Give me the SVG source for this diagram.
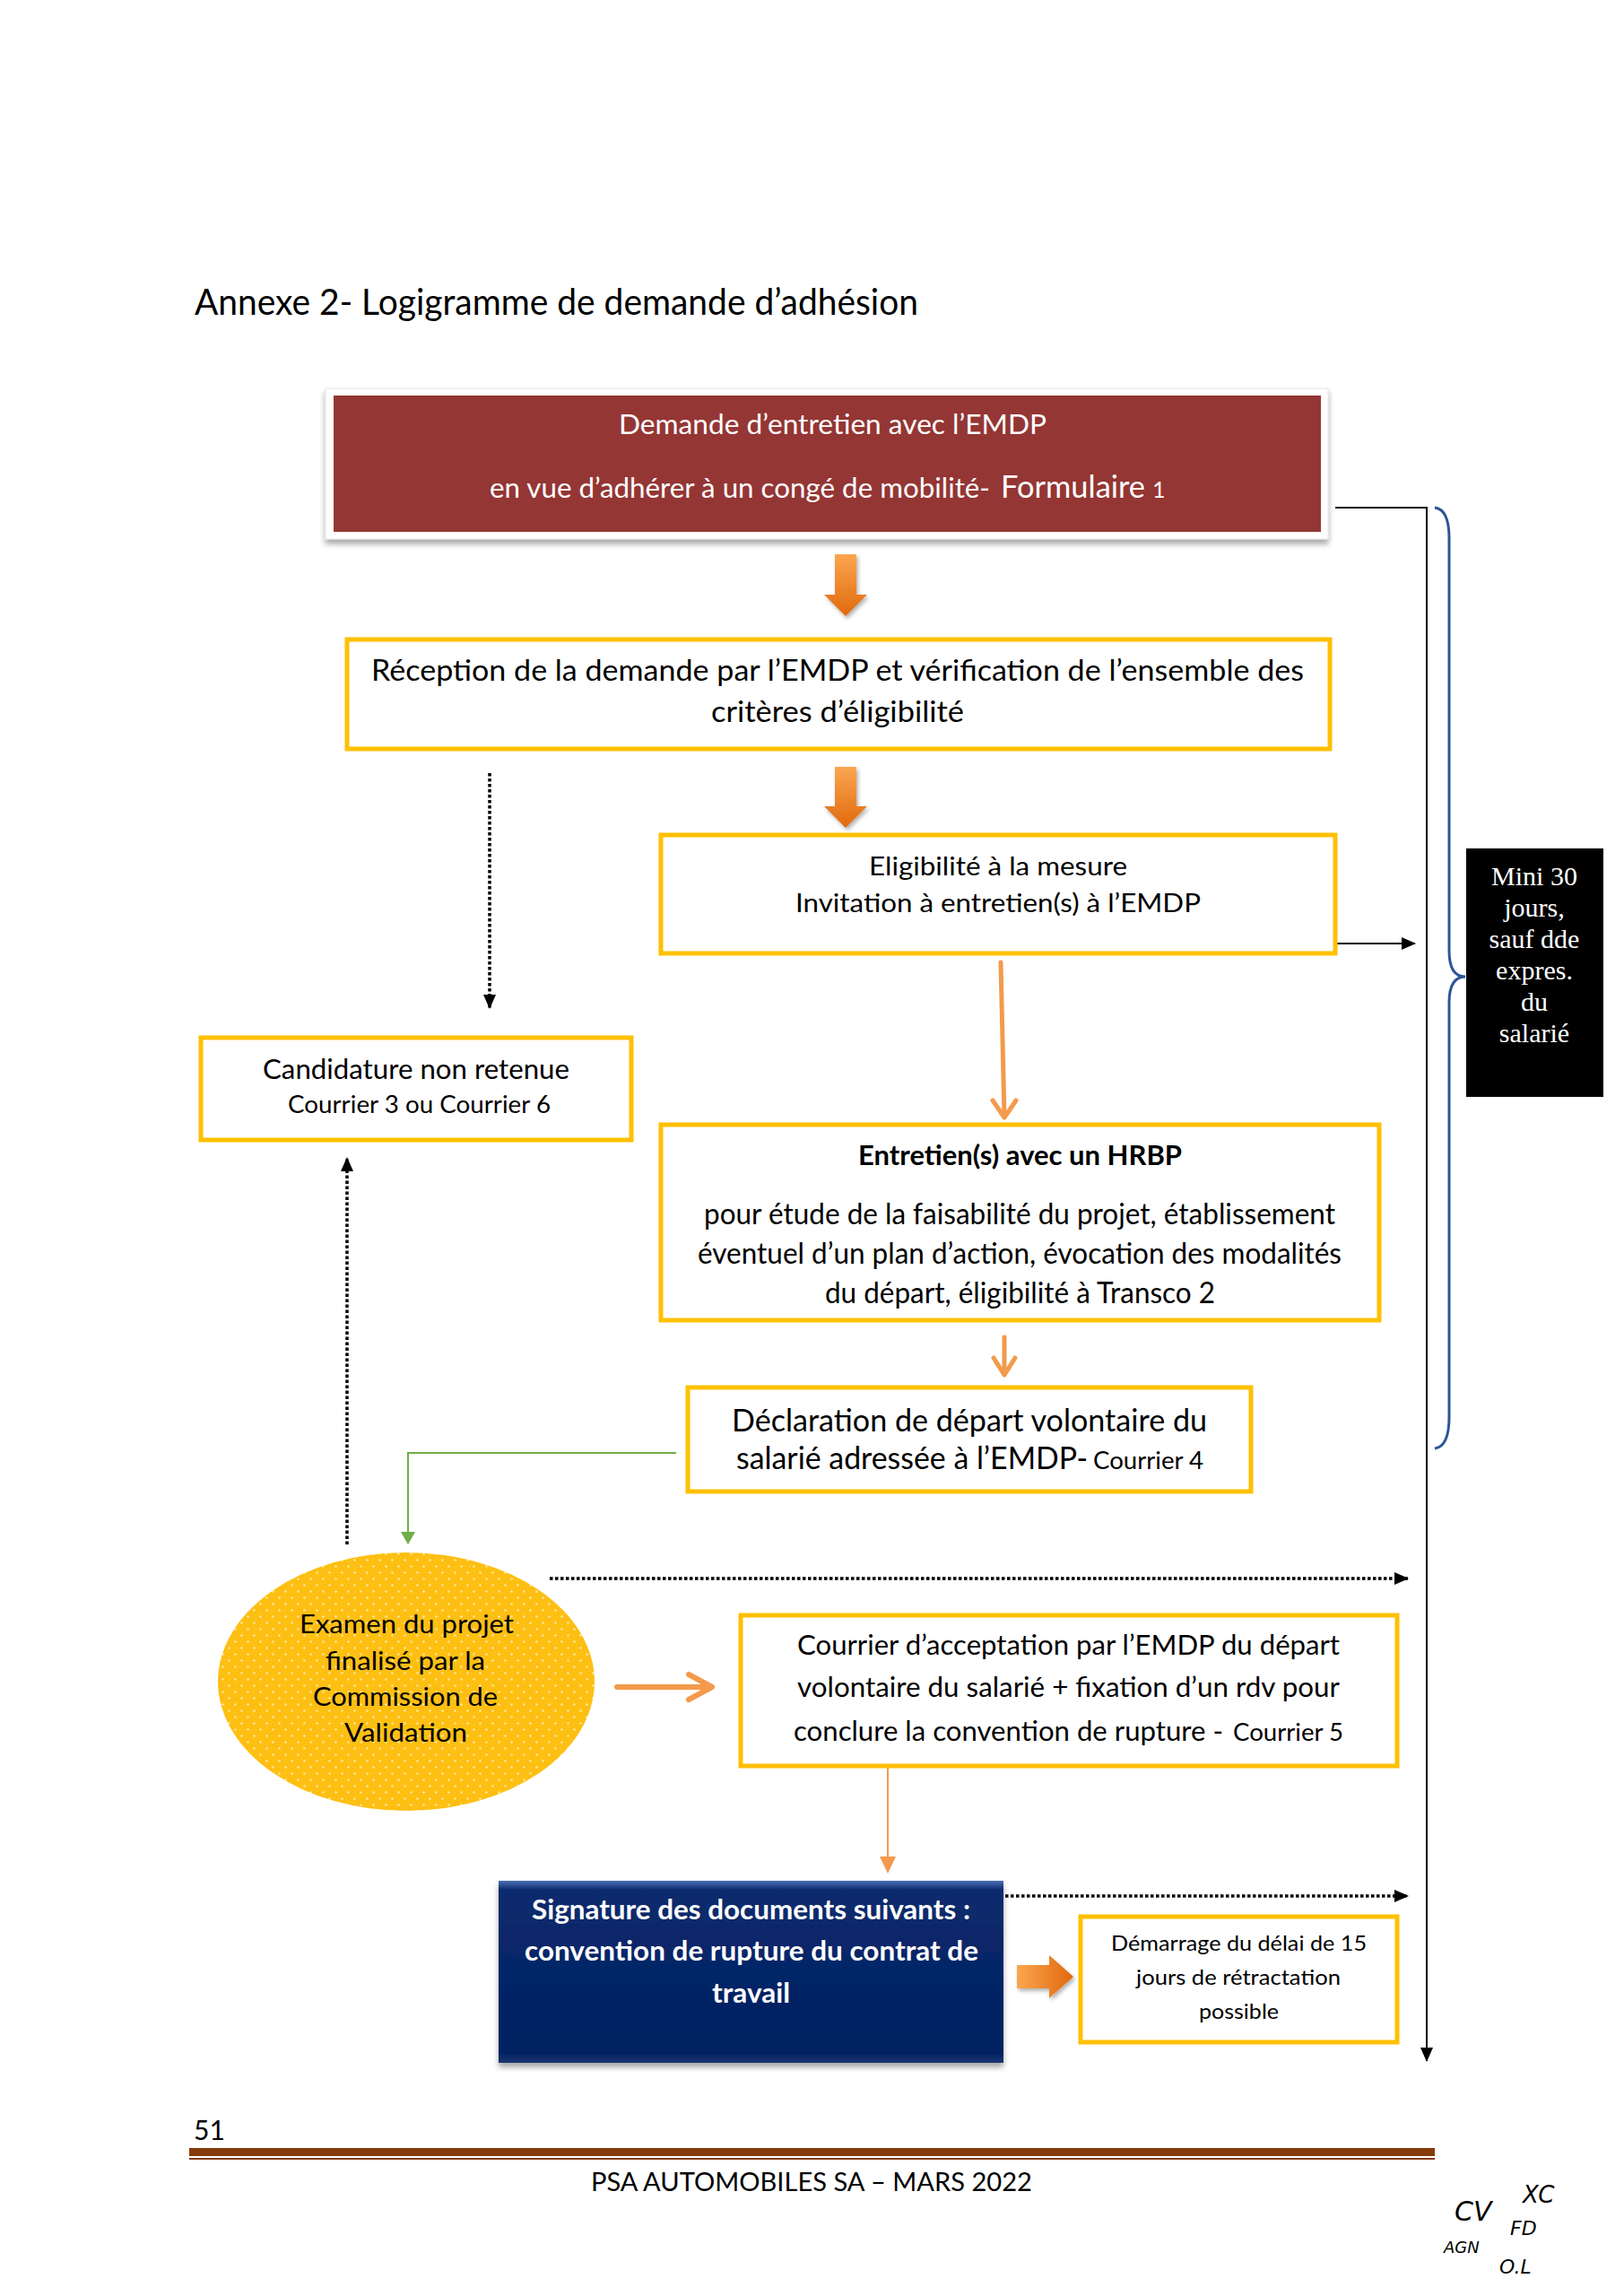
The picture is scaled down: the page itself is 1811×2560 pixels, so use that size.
<svg xmlns="http://www.w3.org/2000/svg" width="1811" height="2560" viewBox="0 0 1811 2560">
<style>
text{font-family:Lato,"Open Sans","Liberation Sans",sans-serif;fill:#000}
.w{fill:#fff}
.b{font-weight:bold}
.box{fill:#fff;stroke:#ffc000;stroke-width:5}
.dot{stroke:#000;stroke-width:3.5;stroke-dasharray:3.5 2.5;fill:none}
.blk{stroke:#000;stroke-width:2;fill:none}
.or{stroke:#f39a4c;fill:none;stroke-linecap:round;stroke-linejoin:round}
.serif{font-family:"Liberation Serif","Times New Roman",serif;font-size:30px;fill:#fff;text-anchor:middle}
.hand{font-family:"DejaVu Sans",sans-serif;font-style:italic}
</style>
<defs>
<marker id="ab" markerUnits="userSpaceOnUse" markerWidth="16" markerHeight="14" refX="15" refY="7" orient="auto"><path d="M0,0 L16,7 L0,14 z" fill="#000"/></marker>
<marker id="ag" markerUnits="userSpaceOnUse" markerWidth="14" markerHeight="16" refX="13" refY="8" orient="auto"><path d="M0,0 L14,8 L0,16 z" fill="#70ad47"/></marker>
<linearGradient id="og" x1="0" y1="0" x2="0" y2="1"><stop offset="0" stop-color="#fba650"/><stop offset="1" stop-color="#e0690d"/></linearGradient>
<linearGradient id="ogh" x1="0" y1="0" x2="1" y2="0"><stop offset="0" stop-color="#fba650"/><stop offset="1" stop-color="#e0690d"/></linearGradient>
<linearGradient id="nv" x1="0" y1="0" x2="0" y2="1"><stop offset="0" stop-color="#4d6fb5"/><stop offset="0.05" stop-color="#0b2b6e"/><stop offset="0.94" stop-color="#002060"/><stop offset="1" stop-color="#1a3570"/></linearGradient>
<pattern id="dots" patternUnits="userSpaceOnUse" width="14" height="14"><rect width="14" height="14" fill="#fdbf12"/><circle cx="3.5" cy="3.5" r="1.3" fill="#fff" fill-opacity="0.6"/><circle cx="10.5" cy="10.5" r="1.3" fill="#fff" fill-opacity="0.6"/></pattern>
<filter id="sh" x="-5%" y="-10%" width="110%" height="130%"><feDropShadow dx="0" dy="5" stdDeviation="3" flood-color="#000" flood-opacity="0.35"/></filter>
<filter id="sh2" x="-10%" y="-10%" width="130%" height="140%"><feDropShadow dx="2" dy="3" stdDeviation="2" flood-color="#000" flood-opacity="0.3"/></filter>
</defs>
<rect width="1811" height="2560" fill="#fff"/>

<text x="217" y="351" font-size="40" textLength="807" lengthAdjust="spacingAndGlyphs">Annexe 2- Logigramme de demande d’adhésion</text>

<g id="connectors">
<path class="blk" d="M1489,566 H1591 V2298" marker-end="url(#ab)"/>
<line class="blk" x1="1489" y1="1052" x2="1578" y2="1052" marker-end="url(#ab)"/>
<line class="dot" x1="546" y1="862" x2="546" y2="1124" marker-end="url(#ab)"/>
<line class="dot" x1="387" y1="1722" x2="387" y2="1291" marker-end="url(#ab)"/>
<line class="dot" x1="613" y1="1760" x2="1570" y2="1760" marker-end="url(#ab)"/>
<line class="dot" x1="1121" y1="2114" x2="1570" y2="2114" marker-end="url(#ab)"/>
<path d="M754,1620 H455 V1721" fill="none" stroke="#70ad47" stroke-width="2" marker-end="url(#ag)"/>
<path d="M1600,566 Q1616,568 1616,600 L1616,1060 Q1616,1089 1634,1089 Q1616,1089 1616,1118 L1616,1580 Q1616,1613 1600,1615" fill="none" stroke="#2e5597" stroke-width="3"/>
<g filter="url(#sh2)">
<path d="M931,618 H955 V663 H967 L943,687 L919,663 H931 Z" fill="url(#og)"/>
<path d="M931,855 H955 V899 H967 L943,923 L919,899 H931 Z" fill="url(#og)"/>
<path d="M1134,2191 H1170 V2180 L1197,2204 L1170,2228 V2217 H1134 Z" fill="url(#ogh)"/>
</g>
<line class="or" x1="1116" y1="1073" x2="1120" y2="1245" stroke-width="5"/>
<polyline class="or" points="1107,1227 1120,1246 1133,1227" stroke-width="5"/>
<line class="or" x1="1120" y1="1491" x2="1120" y2="1532" stroke-width="5"/>
<polyline class="or" points="1108,1514 1120,1533 1132,1514" stroke-width="5"/>
<line class="or" x1="688" y1="1881" x2="792" y2="1881" stroke-width="6"/>
<polyline class="or" points="768,1867 794,1881 768,1895" stroke-width="6"/>
<line class="or" x1="990" y1="1970" x2="990" y2="2072" stroke-width="2"/>
<path d="M981,2070 L999,2070 L990,2089 Z" fill="#f39a4c"/>
</g>

<g id="n-demande">
<rect x="363" y="433" width="1118" height="168" fill="#fff" stroke="#e6e6e6" stroke-width="1" filter="url(#sh)"/>
<rect x="372" y="441" width="1101" height="152" fill="#943634"/>
<text class="w" x="690" y="484" font-size="31" textLength="477" lengthAdjust="spacingAndGlyphs">Demande d’entretien avec l’EMDP</text>
<text class="w" x="546" y="555" font-size="31" textLength="558" lengthAdjust="spacingAndGlyphs">en vue d’adhérer à un congé de mobilité-</text>
<text class="w" x="1116" y="555" font-size="35" textLength="161" lengthAdjust="spacingAndGlyphs">Formulaire</text>
<text class="w" x="1285" y="555" font-size="25">1</text>
</g>

<g id="n-reception">
<rect class="box" x="387" y="713" width="1096" height="122"/>
<text x="414" y="759" font-size="33" textLength="1040" lengthAdjust="spacingAndGlyphs">Réception de la demande par l’EMDP et vérification de l’ensemble des</text>
<text x="793" y="805" font-size="33" textLength="282" lengthAdjust="spacingAndGlyphs">critères d’éligibilité</text>
</g>

<g id="n-eligibilite">
<rect class="box" x="737" y="931" width="752" height="132"/>
<text x="969" y="976" font-size="29" textLength="288" lengthAdjust="spacingAndGlyphs">Eligibilité à la mesure</text>
<text x="887" y="1017" font-size="29" textLength="452" lengthAdjust="spacingAndGlyphs">Invitation à entretien(s) à l’EMDP</text>
</g>

<g id="n-candidature">
<rect class="box" x="224" y="1157" width="480" height="114" stroke-width="6"/>
<text x="293" y="1203" font-size="30" textLength="342" lengthAdjust="spacingAndGlyphs">Candidature non retenue</text>
<text x="321" y="1241" font-size="27" textLength="293" lengthAdjust="spacingAndGlyphs">Courrier 3 ou Courrier 6</text>
</g>

<g id="n-hrbp">
<rect class="box" x="737" y="1254" width="801" height="218"/>
<text class="b" x="957" y="1299" font-size="30" textLength="361" lengthAdjust="spacingAndGlyphs">Entretien(s) avec un HRBP</text>
<text x="785" y="1365" font-size="32" textLength="704" lengthAdjust="spacingAndGlyphs">pour étude de la faisabilité du projet, établissement</text>
<text x="778" y="1409" font-size="32" textLength="718" lengthAdjust="spacingAndGlyphs">éventuel d’un plan d’action, évocation des modalités</text>
<text x="920" y="1453" font-size="32" textLength="435" lengthAdjust="spacingAndGlyphs">du départ, éligibilité à Transco 2</text>
</g>

<g id="n-declaration">
<rect class="box" x="767" y="1547" width="628" height="116"/>
<text x="816" y="1596" font-size="34" textLength="530" lengthAdjust="spacingAndGlyphs">Déclaration de départ volontaire du</text>
<text x="821" y="1638" font-size="34" textLength="392" lengthAdjust="spacingAndGlyphs">salarié adressée à l’EMDP-</text>
<text x="1219" y="1638" font-size="26" textLength="123" lengthAdjust="spacingAndGlyphs">Courrier 4</text>
</g>

<g id="n-examen">
<ellipse cx="453" cy="1875" rx="210" ry="144" fill="url(#dots)"/>
<text x="334" y="1821" font-size="29" textLength="239" lengthAdjust="spacingAndGlyphs">Examen du projet</text>
<text x="363" y="1862" font-size="29" textLength="178" lengthAdjust="spacingAndGlyphs">finalisé par la</text>
<text x="349" y="1902" font-size="29" textLength="206" lengthAdjust="spacingAndGlyphs">Commission de</text>
<text x="384" y="1942" font-size="29" textLength="137" lengthAdjust="spacingAndGlyphs">Validation</text>
</g>

<g id="n-courrier">
<rect class="box" x="826" y="1801" width="732" height="168"/>
<text x="889" y="1845" font-size="31" textLength="605" lengthAdjust="spacingAndGlyphs">Courrier d’acceptation par l’EMDP du départ</text>
<text x="889" y="1892" font-size="31" textLength="605" lengthAdjust="spacingAndGlyphs">volontaire du salarié + fixation d’un rdv pour</text>
<text x="885" y="1941" font-size="31" textLength="479" lengthAdjust="spacingAndGlyphs">conclure la convention de rupture -</text>
<text x="1375" y="1941" font-size="26" textLength="123" lengthAdjust="spacingAndGlyphs">Courrier 5</text>
</g>

<g id="n-signature">
<rect x="556" y="2097" width="563" height="203" fill="url(#nv)" filter="url(#sh)"/>
<text class="w b" x="593" y="2140" font-size="30" textLength="489" lengthAdjust="spacingAndGlyphs">Signature des documents suivants :</text>
<text class="w b" x="585" y="2186" font-size="30" textLength="506" lengthAdjust="spacingAndGlyphs">convention de rupture du contrat de</text>
<text class="w b" x="794" y="2233" font-size="30" textLength="87" lengthAdjust="spacingAndGlyphs">travail</text>
</g>

<g id="n-demarrage">
<rect class="box" x="1205" y="2137" width="353" height="140"/>
<text x="1239" y="2175" font-size="23" textLength="285" lengthAdjust="spacingAndGlyphs">Démarrage du délai de 15</text>
<text x="1267" y="2213" font-size="23" textLength="228" lengthAdjust="spacingAndGlyphs">jours de rétractation</text>
<text x="1337" y="2251" font-size="23" textLength="89" lengthAdjust="spacingAndGlyphs">possible</text>
</g>

<g id="n-delai">
<rect x="1635" y="946" width="153" height="277" fill="#000"/>
<text class="serif" x="1711" y="987">Mini 30</text>
<text class="serif" x="1711" y="1022">jours,</text>
<text class="serif" x="1711" y="1057">sauf dde</text>
<text class="serif" x="1711" y="1092">expres.</text>
<text class="serif" x="1711" y="1127">du</text>
<text class="serif" x="1711" y="1162">salarié</text>
</g>

<g id="footer">
<text x="216" y="2386" font-size="30">51</text>
<rect x="211" y="2395" width="1389" height="9" fill="#843c0c"/>
<rect x="211" y="2406" width="1389" height="2" fill="#843c0c"/>
<text x="659" y="2443" font-size="29" textLength="492" lengthAdjust="spacingAndGlyphs">PSA AUTOMOBILES SA – MARS 2022</text>
<text class="hand" x="1622" y="2476" font-size="30" fill="#333">CV</text>
<text class="hand" x="1698" y="2456" font-size="26" fill="#333">XC</text>
<text class="hand" x="1610" y="2512" font-size="18" fill="#444">AGN</text>
<text class="hand" x="1684" y="2492" font-size="22" fill="#3a4fc0">FD</text>
<text class="hand" x="1672" y="2535" font-size="22" fill="#3a4fc0">O.L</text>
</g>
</svg>
